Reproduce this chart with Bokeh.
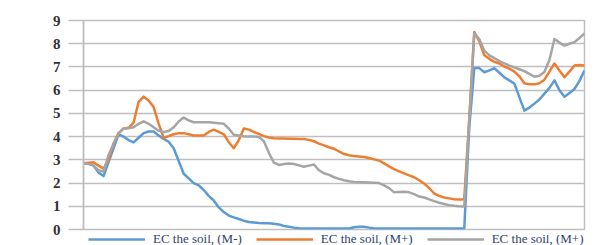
from bokeh.plotting import figure
from bokeh.models import Legend, LegendItem, FixedTicker, Range1d
from bokeh.layouts import column
from bokeh.embed import file_html
from bokeh.resources import INLINE

x = list(range(101))

ec_m_minus = [2.85, 2.85, 2.75, 2.45, 2.3, 2.9, 3.5, 4.1, 4.0, 3.85,
              3.75, 3.95, 4.15, 4.22, 4.22, 4.05, 3.9, 3.78, 3.5, 2.95,
              2.4, 2.2, 2.0, 1.9, 1.7, 1.45, 1.25, 0.95, 0.75, 0.6,
              0.52, 0.45, 0.38, 0.32, 0.3, 0.28, 0.27, 0.27, 0.25, 0.22,
              0.15, 0.12, 0.08, 0.05, 0.04, 0.04, 0.04, 0.04, 0.04, 0.04,
              0.04, 0.04, 0.04, 0.04, 0.1, 0.12, 0.12, 0.08, 0.05, 0.04,
              0.04, 0.04, 0.04, 0.04, 0.04, 0.04, 0.04, 0.04, 0.04, 0.04,
              0.04, 0.04, 0.04, 0.04, 0.04, 0.04, 0.04, 4.4, 6.95, 6.95,
              6.77, 6.85, 6.95, 6.75, 6.55, 6.42, 6.28, 5.7, 5.12, 5.25,
              5.42, 5.6, 5.85, 6.1, 6.42, 6.0, 5.72, 5.88, 6.05, 6.4,
              6.85]

ec_m_plus_a = [2.85, 2.88, 2.9, 2.75, 2.62, 3.0, 3.7, 4.15, 4.35, 4.38,
               4.6, 5.5, 5.72, 5.56, 5.27, 4.56, 3.95, 4.02, 4.1, 4.15,
               4.15, 4.1, 4.05, 4.05, 4.05, 4.2, 4.3, 4.2, 4.1, 3.76,
               3.5, 3.85, 4.35, 4.3, 4.2, 4.12, 4.02, 3.96, 3.93, 3.92,
               3.92, 3.91, 3.91, 3.9, 3.9, 3.86, 3.8, 3.7, 3.62, 3.54,
               3.48, 3.36, 3.25, 3.2, 3.16, 3.14, 3.12, 3.08, 3.02, 2.97,
               2.85, 2.72, 2.6, 2.5, 2.42, 2.33, 2.25, 2.12, 1.98, 1.78,
               1.55, 1.45, 1.38, 1.34, 1.3, 1.29, 1.3, 4.8, 8.5, 8.1,
               7.5, 7.35, 7.22, 7.15, 7.02, 6.93, 6.8, 6.6, 6.3, 6.25,
               6.25, 6.3, 6.45, 6.8, 7.15, 6.85, 6.56, 6.8, 7.06, 7.08,
               7.06]

ec_m_plus_b = [2.85, 2.82, 2.76, 2.55, 2.5, 3.2, 3.7, 4.13, 4.35, 4.36,
               4.4, 4.55, 4.66, 4.55, 4.4, 4.25, 4.2, 4.24, 4.4, 4.65,
               4.82, 4.7, 4.62, 4.62, 4.62, 4.62, 4.6, 4.58, 4.55, 4.35,
               4.08, 4.05, 4.02, 4.0, 4.0, 3.98, 3.8, 3.3, 2.88, 2.78,
               2.82, 2.84, 2.82, 2.76, 2.7, 2.75, 2.8, 2.55, 2.42, 2.35,
               2.25, 2.18, 2.12, 2.08, 2.05, 2.04, 2.03, 2.02, 2.01, 2.0,
               1.9, 1.78, 1.6, 1.62, 1.63, 1.6, 1.52, 1.42, 1.38, 1.3,
               1.22, 1.15, 1.1, 1.05, 1.02, 1.0, 0.99, 4.7, 8.45, 8.2,
               7.7, 7.5, 7.38, 7.25, 7.15, 7.06, 6.98, 6.9, 6.82, 6.7,
               6.58, 6.62, 6.78, 7.3, 8.2, 8.05, 7.92, 8.0, 8.07, 8.25,
               8.44]

labels = ["EC the soil, (M-)", "EC the soil, (M+)", "EC the soil, (M+)"]
colors = ["#5b9bd5", "#ed7d31", "#a5a5a5"]
y_ticks = [0, 1, 2, 3, 4, 5, 6, 7, 8, 9]
series = [ec_m_minus, ec_m_plus_a, ec_m_plus_b]

# main chart
p = figure(frame_width=501, frame_height=209, output_backend="svg", toolbar_location=None,
           x_range=Range1d(0, 100), y_range=Range1d(0, 9), x_axis_location=None,
           min_border_left=83, min_border_right=4, min_border_top=20,
           min_border_bottom=6)
p.background_fill_color = "white"
p.border_fill_color = "white"
p.outline_line_color = "#bfbfbf"
p.outline_line_width = 1.5
p.xgrid.visible = False
p.ygrid.grid_line_color = "#bfbfbf"
p.ygrid.grid_line_width = 1.5

ya = p.yaxis[0]
ya.ticker = FixedTicker(ticks=y_ticks)
ya.axis_line_color = "#bfbfbf"
ya.axis_line_width = 1.5
ya.major_tick_line_color = "#bfbfbf"
ya.major_tick_line_width = 1.5
ya.major_tick_out = 15
ya.major_tick_in = 0
ya.minor_tick_line_color = None
ya.major_label_standoff = 8
ya.major_label_text_font = "Liberation Serif"
ya.major_label_text_font_style = "bold"
ya.major_label_text_font_size = "15px"
ya.major_label_text_color = "#333333"

for ys, c in zip(series, colors):
    p.line(x, ys, line_color=c, line_width=2.5, line_join="round")

# legend strip below the chart (same series, kept out of view; only the legend shows)
pl = figure(width=588, height=10, output_backend="svg", toolbar_location=None,
            x_range=Range1d(0, 100), y_range=Range1d(100, 101),
            x_axis_location=None, y_axis_location=None,
            min_border_left=0, min_border_right=0, min_border_top=0, min_border_bottom=0)
pl.outline_line_color = None
pl.xgrid.visible = False
pl.ygrid.visible = False
pl.background_fill_color = "white"
pl.border_fill_color = "white"

leg_renderers = []
for ys, c in zip(series, colors):
    leg_renderers.append(pl.line(x, ys, line_color=c, line_width=2.5))

items = [LegendItem(label=l, renderers=[r]) for l, r in zip(labels, leg_renderers)]
legend = Legend(items=items, orientation="horizontal", location=(5, -2),
                glyph_width=57, glyph_height=12, label_height=12,
                label_standoff=8, spacing=14, padding=0, margin=0,
                border_line_color=None, background_fill_alpha=0,
                label_text_font="Liberation Serif", label_text_font_size="13px",
                label_text_color="#2f3f6f")
pl.add_layout(legend, "center")

layout = column(p, pl, spacing=0)
open("out.html", "w").write(file_html(layout, INLINE))
